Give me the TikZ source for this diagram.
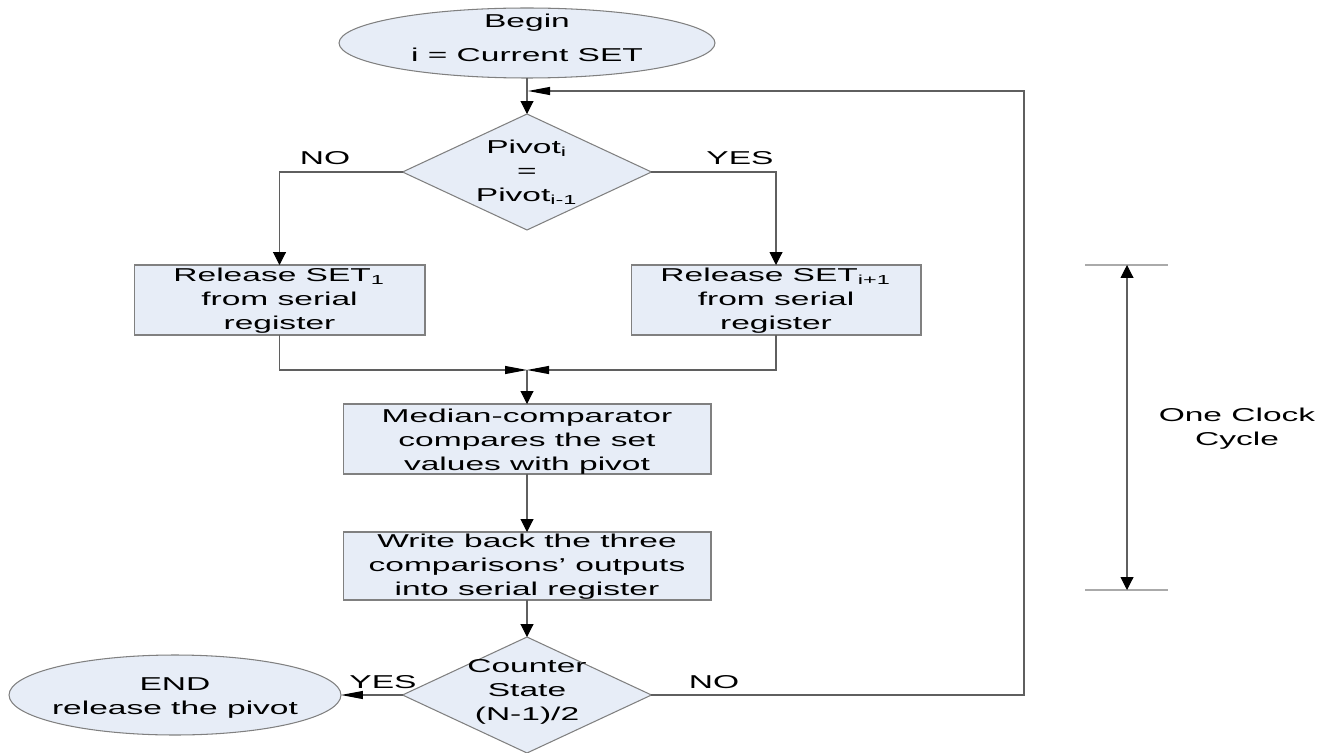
\documentclass[tikz,border=0pt]{standalone}
\usepackage{fontspec}
\setmainfont{Liberation Sans}
\usepackage{graphicx}
\usetikzlibrary{arrows.meta,shapes.geometric}
\definecolor{boxfill}{RGB}{231,237,247}
\definecolor{boxline}{RGB}{128,128,128}
\definecolor{conn}{RGB}{95,95,95}
\definecolor{tick}{RGB}{170,170,170}
% zero-size, horizontally stretched multi-line text
\newcommand\zx[2][-3.4pt]{\makebox[0pt]{\raisebox{#1}[0pt][0pt]{\scalebox{1.8}[1]{\begin{tabular}{@{}c@{}}#2\end{tabular}}}}}
\tikzset{
  base/.style={inner sep=0pt, outer sep=0pt, font=\fontsize{10.6}{13.66}\selectfont},
  procbox/.style={base, rectangle, draw=boxline, fill=boxfill, line width=0.6pt},
  termin/.style={base, ellipse, draw=boxline, fill=boxfill, line width=0.6pt},
  decide/.style={base, diamond, draw=boxline, fill=boxfill, line width=0.6pt},
  lbl/.style={base},
  conline/.style={draw=conn, line width=0.6pt},
  vt/.tip={Triangle[length=0.26cm,width=0.26cm,color=black]},
  ht/.tip={Triangle[length=0.44cm,width=0.16cm,color=black]},
}
\begin{document}
\begin{tikzpicture}[x=0.02cm, y=-0.02cm]
\useasboundingbox (0,0) rectangle (1324,753);

% nodes
\node[termin, minimum width=7.52cm, minimum height=1.40cm] (begin) at (527,43)
  {\zx[-1.0pt]{Begin\\[5.7pt] i = Current SET}};
\node[decide, minimum width=4.98cm, minimum height=2.32cm] (d1) at (527,172)
  {\zx{Pivot\textsubscript{i}\\=\\Pivot\textsubscript{i-1}}};
\node[procbox, minimum width=5.82cm, minimum height=1.40cm] (rl) at (279.5,300)
  {\zx[-3.0pt]{Release SET\textsubscript{1}\\from serial\\register}};
\node[procbox, minimum width=5.80cm, minimum height=1.40cm] (rr) at (776,300)
  {\zx[-3.0pt]{Release SET\textsubscript{i+1}\\from serial\\register}};
\node[procbox, minimum width=7.36cm, minimum height=1.40cm] (med) at (527,439)
  {\zx[-4.0pt]{Median-comparator\\compares the set\\values with pivot}};
\node[procbox, minimum width=7.36cm, minimum height=1.36cm] (wb) at (527,566)
  {\zx[-3.4pt]{Write back the three\\comparisons’ outputs\\into serial register}};
\node[decide, minimum width=4.98cm, minimum height=2.32cm] (d2) at (527,695)
  {\zx[-0.6pt]{Counter\\State\\(N-1)/2}};
\node[termin, minimum width=6.64cm, minimum height=1.60cm] (fin) at (175,695)
  {\zx[-4.5pt]{END\\release the pivot}};

% branch labels
\node[lbl] (no1) at (325,159) {\zx{NO}};
\node[lbl] (yes1) at (740,159) {\zx{YES}};
\node[lbl] (yes2) at (383,683) {\zx{YES}};
\node[lbl] (no2) at (714,683) {\zx{NO}};

% helper coordinates
\coordinate (m) at (527,370);
\coordinate (fbc) at (1024,695);
\coordinate (fb) at (528,91);

% connectors
\draw[conline, -{vt}] (begin.south) -- (d1.north);
\draw[conline, -{vt}] (d1.west) -| (rl.north);
\draw[conline, -{vt}] (d1.east) -| (rr.north);
\draw[conline, -{ht}] (rl.south) |- (m);
\draw[conline, -{ht}] (rr.south) |- (m);
\draw[conline, -{vt}] (m) -- (med.north);
\draw[conline, -{vt}] (med.south) -- (wb.north);
\draw[conline, -{vt}] (wb.south) -- (d2.north);
\draw[conline, -{ht}] (d2.west) -- (fin.east);
\draw[conline, -{ht}] (d2.east) -- (fbc) |- (fb);

% one clock cycle dimension
\coordinate (t1) at (1085,265);
\coordinate (t2) at (1168,265);
\coordinate (b1) at (1085,590);
\coordinate (b2) at (1168,590);
\coordinate (ta) at (1127,265);
\coordinate (ba) at (1127,590);
\draw[draw=tick, line width=0.6pt] (t1) -- (t2);
\draw[draw=tick, line width=0.6pt] (b1) -- (b2);
\draw[conline, {vt}-{vt}] (ta) -- (ba);
\node[lbl] (clk) at (1237,428) {\zx[-3.4pt]{One Clock\\Cycle}};
\end{tikzpicture}
\end{document}
